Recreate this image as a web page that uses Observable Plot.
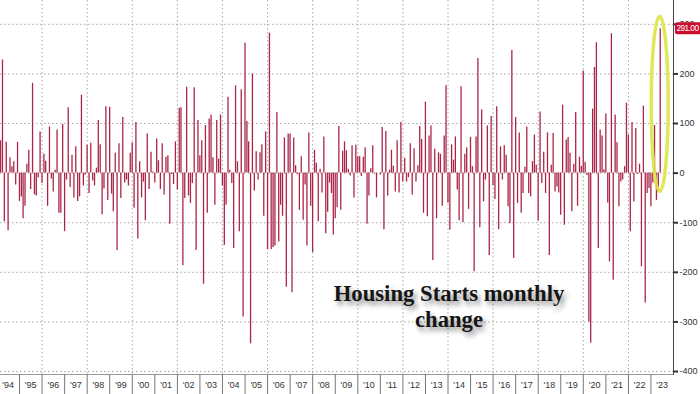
<!DOCTYPE html>
<html><head><meta charset="utf-8">
<script src="https://cdn.jsdelivr.net/npm/d3@7"></script>
<script src="https://cdn.jsdelivr.net/npm/@observablehq/plot@0.6"></script>
<style>
body{margin:0;background:#fff;}
#wrap{position:relative;width:700px;height:394px;overflow:hidden;}
#wrap svg{position:absolute;left:0;top:0;}
#title{position:absolute;left:290px;width:318px;top:281px;text-align:center;font-family:"Liberation Serif","DejaVu Serif",serif;font-weight:bold;font-size:22.7px;line-height:26px;color:#151515;text-shadow:3px 4px 5px rgba(0,0,0,0.45);}
</style></head><body>
<div id="wrap"><div id="title">Housing Starts monthly<br>change</div></div>
<script>
// Monthly change in US housing starts (thousands), Feb 1994 .. May 2023
const startYear = 1994, startMonth = 2;
const changes = [
  65,228,-98,62,-116,31,13,23,-24,62,
  -57,-48,-92,-67,18,46,-33,181,-44,-46,
  -10,83,-21,38,24,-67,93,-12,-38,6,
  87,-81,-81,98,-118,-14,132,-29,36,-50,
  53,-57,-48,157,-26,-4,56,-41,60,-16,
  -26,10,106,57,-84,-32,134,-55,133,-42,
  -78,40,
  -156,59,-51,112,-20,-14,-26,40,61,-71,
  102,-133,23,-50,-18,-96,79,-33,42,2,
  -20,69,25,-33,59,-44,32,35,-103,-3,
  -23,63,-34,131,132,-187,-51,173,-46,-61,
  -21,172,-156,106,35,65,-224,96,-81,109,
  117,31,-65,106,28,117,-26,-146,-65,
  153,6,-21,-152,176,23,-118,168,-290,262,
  104,63,-344,200,-36,43,-14,41,57,-87,
  83,-154,282,-154,-150,-147,122,-139,-65,-87,
  71,-230,79,79,-241,71,15,-3,-75,33,
  -95,-24,-147,81,-67,-160,46,20,-98,8,
  -40,73,-122,-79,-20,-41,-125,-92,-70,94,
  -75,44,63,45,8,-6,55,-50,56,33,
  33,-7,32,51,-103,-46,9,55,-2,-50,
  0,-4,92,-114,84,-46,6,46,14,-38,
  65,-40,102,-18,30,-18,-9,59,-44,49,
  -18,15,94,68,-81,143,-88,75,95,-176,
  48,-92,41,38,-67,75,176,-61,-115,
  57,26,73,-34,-96,174,-100,38,51,-73,
  72,13,-199,73,231,-110,127,-58,-14,95,
  -166,114,-25,-53,134,-114,53,-14,55,36,
  -68,-102,247,-172,112,-61,81,-81,-41,12,
  93,-41,-48,23,77,16,-96,123,-21,42,
  -41,81,-166,16,80,-38,-28,-40,-85,137,
  -105,67,72,40,-78,18,122,-67,32,14,
  206,22,-5,-300,-343,129,213,263,-152,87,
  75,7,119,-60,-179,281,-216,117,61,-68,
  -18,-14,13,141,77,-118,102,-58,90,-3,
  18,-189,135,-262,-41,-31,-68,-20,96,-55,
  -38,291
];
const yTicks = [-400,-300,-200,-100,0,100,200,300];
const yearLabels = d3.range(1994, 2024);
const lastLabel = "291.00";

const data = changes.map((v, i) => ({date: new Date(Date.UTC(startYear, startMonth + i, 0)), value: v}));
const yearBounds = yearLabels.slice(1).map(y => new Date(Date.UTC(y, 0, 1)));
const evenYears = yearLabels.filter(y => y % 2 === 0 && y > 1994).map(y => new Date(Date.UTC(y, 0, 1)));
const yearMids = yearLabels.map(y => new Date(Date.UTC(y, 6, 1)));

const chart = Plot.plot({
  width: 700, height: 394,
  marginLeft: 0, marginRight: 27, marginTop: 0, marginBottom: 20,
  x: {type: "utc", domain: [new Date(Date.UTC(1994, 1, 27)), new Date(Date.UTC(2024, 0, 1))], label: null},
  y: {domain: [-406, 348], label: null},
  style: {fontFamily: "'Liberation Sans', Arial, sans-serif", fontSize: "9px", color: "#333", background: "white", overflow: "visible"},
  marks: [
    Plot.gridY(yTicks, {stroke: "#a8a8a8", strokeOpacity: 1, strokeDasharray: "1.5,2.5"}),
    Plot.gridX(evenYears, {stroke: "#a8a8a8", strokeOpacity: 1, strokeDasharray: "1.5,2.5"}),
    Plot.ruleX(data, {x: "date", y1: 0, y2: "value", stroke: "#ab2549", strokeWidth: 1.3}),
    Plot.frame({anchor: "bottom", stroke: "#999"}),
    Plot.frame({anchor: "right", stroke: "#444"}),
    Plot.axisY(yTicks, {anchor: "right", label: null, tickSize: 4, tickPadding: 2, strokeWidth: 2, stroke: "#333", tickFormat: d => String(d), fill: "#333"}),
    Plot.axisX(yearBounds, {label: null, tickSize: 20, tickFormat: () => "", stroke: "#777"}),
    Plot.axisX(yearMids, {label: null, tickSize: 0, tickPadding: 7, fill: "#333", tickFormat: d => "'" + String(d.getUTCFullYear()).slice(2)})
  ]
});
document.getElementById("wrap").prepend(chart);

// annotations positioned through the chart's scales
const sx = chart.scale("x"), sy = chart.scale("y");
const fx = sx.apply ? sx.apply : Plot.scale({x: sx}).apply;
const fy = sy.apply ? sy.apply : Plot.scale({y: sy}).apply;
const lastPoint = data[data.length - 1];
const svgSel = d3.select(chart);
const ellTop = fy(lastPoint.value) - 12, ellBot = fy(-38);
svgSel.append("ellipse")
  .attr("cx", fx(lastPoint.date)).attr("cy", (ellTop + ellBot) / 2)
  .attr("rx", 8.5).attr("ry", (ellBot - ellTop) / 2)
  .attr("fill", "none").attr("stroke", "#dde646").attr("stroke-width", 3.5).attr("stroke-opacity", 0.9);
const labelY = fy(lastPoint.value);
svgSel.append("rect").attr("x", 675).attr("y", labelY - 6).attr("width", 30).attr("height", 12).attr("rx", 2).attr("fill", "#c8102e");
svgSel.append("text").attr("x", 676.5).attr("y", labelY + 3.2).attr("text-anchor", "start")
  .attr("fill", "white").attr("font-size", 8.3).attr("textLength", 22.5).text(lastLabel);
</script>
</body></html>
